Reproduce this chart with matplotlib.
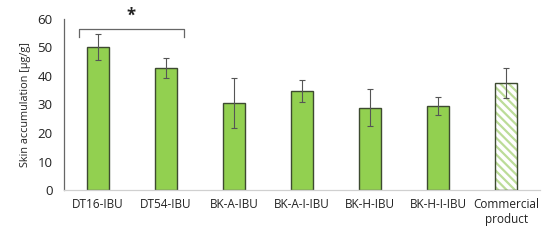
import matplotlib.pyplot as plt
import numpy as np

# data
labels = ["DT16-IBU", "DT54-IBU", "BK-A-IBU", "BK-A-I-IBU", "BK-H-IBU", "BK-H-I-IBU", "Commercial\nproduct"]
values = [50.2, 42.8, 30.5, 34.7, 28.9, 29.5, 37.5]
errors = [4.5, 3.5, 8.7, 3.8, 6.6, 3.3, 5.3]
hatched = [False, False, False, False, False, False, True]

plt.rcParams['font.family'] = ['Open Sans', 'DejaVu Sans']
plt.rcParams['hatch.linewidth'] = 1.6

fig = plt.figure(figsize=(5.5, 2.43), dpi=100)
ax = fig.add_axes([0.116, 0.218, 0.866, 0.704])

x = np.arange(len(labels))
green = "#92D050"
edge = "#3d4a30"
w = 0.32

for i in range(len(labels)):
    if hatched[i]:
        ax.bar(x[i], values[i], w, color="white", edgecolor="#bcdc98", hatch="\\\\\\\\", linewidth=0, zorder=2)
        ax.bar(x[i], values[i], w, color="none", edgecolor=edge, linewidth=1.0, zorder=3)
    else:
        ax.bar(x[i], values[i], w, color=green, edgecolor=edge, linewidth=1.0, zorder=2)

ax.errorbar(x, values, yerr=errors, fmt="none", ecolor="#555555", elinewidth=0.8, capsize=2.5, capthick=0.8, zorder=4)

ax.set_xlim(-0.5, len(labels) - 0.5)
ax.set_ylim(0, 60)
ax.set_yticks(range(0, 61, 10))
ax.set_xticks(x)
ax.set_xticklabels(labels, fontsize=8.5, color="#222222")
ax.tick_params(axis="y", labelsize=9.5, colors="#222222", length=0, pad=8)
ax.tick_params(axis="x", length=0, pad=6)
ax.set_ylabel("Skin accumulation [µg/g]", fontsize=7.8, color="#222222", labelpad=5)

for s in ["top", "right"]:
    ax.spines[s].set_visible(False)
ax.spines["left"].set_color("#666666")
ax.spines["left"].set_linewidth(0.9)
ax.spines["bottom"].set_color("#d0d0d0")
ax.spines["bottom"].set_linewidth(0.9)

# significance bracket
bx0, bx1 = -0.28, 1.26
ax.plot([bx0, bx0, bx1, bx1], [53.5, 56.5, 56.5, 53.5], color="#666666", lw=0.9, clip_on=False)
ax.text((bx0 + bx1) / 2, 61.0, "*", ha="center", va="center", fontsize=12, fontweight="bold", color="#222222")

fig.savefig("out.png", dpi=100)
